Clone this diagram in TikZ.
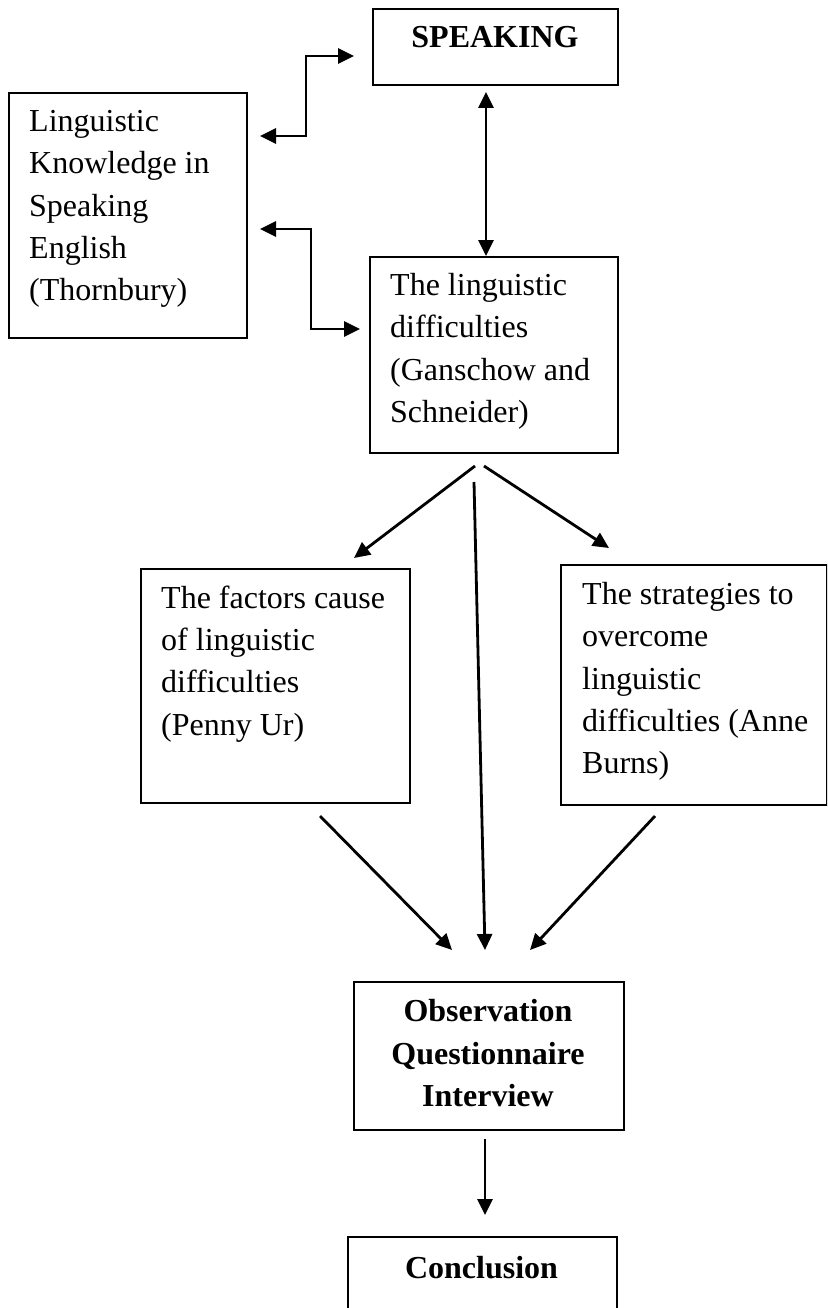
\documentclass[tikz,border=0pt]{standalone}
\usepackage{fontspec}
\setmainfont{Liberation Serif}
\usetikzlibrary{arrows.meta}
\begin{document}
\begin{tikzpicture}[x=1pt,y=-1pt,
  box/.style={draw, line width=2pt, inner sep=0pt, anchor=north west},
  txt/.style={inner sep=0pt, align=left, anchor=base west, font=\fontsize{32}{42.3}\selectfont},
  btxt/.style={inner sep=0pt, align=center, anchor=base, font=\fontsize{32}{42.6}\selectfont\bfseries},
  conn/.style={line width=2.8pt, -{Triangle[length=16pt,width=15pt]}},
  dconn/.style={line width=2.8pt, {Triangle[length=16pt,width=15pt]}-{Triangle[length=16pt,width=15pt]}}]
\clip (0,0) rectangle (827,1308);
\fill[white] (0,0) rectangle (827,1308);
% boxes
\node[box, minimum width=245pt, minimum height=76pt] (speak) at (372,8) {};
\node[box, minimum width=238pt, minimum height=245pt] (ling) at (8,92) {};
\node[box, minimum width=248pt, minimum height=196pt] (diff) at (369,256) {};
\node[box, minimum width=269pt, minimum height=234pt] (fact) at (140,568) {};
\node[box, minimum width=266pt, minimum height=240pt] (strat) at (560,564) {};
\node[box, minimum width=270pt, minimum height=148pt] (obs) at (353,981) {};
\node[box, minimum width=269pt, minimum height=100pt] (concl) at (347,1236) {};
% texts (anchor = baseline of the last line)
\node[btxt] (tspeak) at (495,48) {SPEAKING};
\node[txt] (tling) at (29,300.7) {Linguistic\\Knowledge in\\Speaking\\English\\(Thornbury)};
\node[txt] (tdiff) at (390,422.5) {The linguistic\\difficulties\\(Ganschow and\\Schneider)};
\node[txt] (tfact) at (161,735) {The factors cause\\of linguistic\\difficulties\\(Penny Ur)};
\node[txt] (tstrat) at (582,773.7) {The strategies to\\overcome\\linguistic\\difficulties (Anne\\Burns)};
\node[btxt] (tobs) at (488,1106.7) {Observation\\Questionnaire\\Interview};
\node[btxt] (tconcl) at (481.5,1278) {Conclusion};
% connector end points
\coordinate (a1) at (260,136);
\coordinate (a1k) at (306,136);
\coordinate (a1m) at (306,56);
\coordinate (a2) at (354,56);
\coordinate (b1) at (260,229);
\coordinate (b1k) at (311,229);
\coordinate (b1m) at (311,329);
\coordinate (b2) at (360,329);
\coordinate (v1) at (486,92);
\coordinate (v2) at (486,256);
\coordinate (dl0) at (475,466);
\coordinate (dl1) at (354,558);
\coordinate (dr0) at (484,466);
\coordinate (dr1) at (609,548);
\coordinate (dm0) at (474,482);
\coordinate (dm1) at (485,950);
\coordinate (fl0) at (320,816);
\coordinate (fl1) at (452,950);
\coordinate (sr0) at (655,816);
\coordinate (sr1) at (530,950);
\coordinate (oc0) at (485,1139);
\coordinate (oc1) at (485,1215);
% connectors
\draw[dconn] (a1) -- (a1k) -- (a1m) -- (a2);
\draw[dconn] (b1) -- (b1k) -- (b1m) -- (b2);
\draw[dconn] (v1) -- (v2);
\draw[conn] (dl0) -- (dl1);
\draw[conn] (dr0) -- (dr1);
\draw[conn] (dm0) -- (dm1);
\draw[conn] (fl0) -- (fl1);
\draw[conn] (sr0) -- (sr1);
\draw[conn] (oc0) -- (oc1);
\end{tikzpicture}
\end{document}
